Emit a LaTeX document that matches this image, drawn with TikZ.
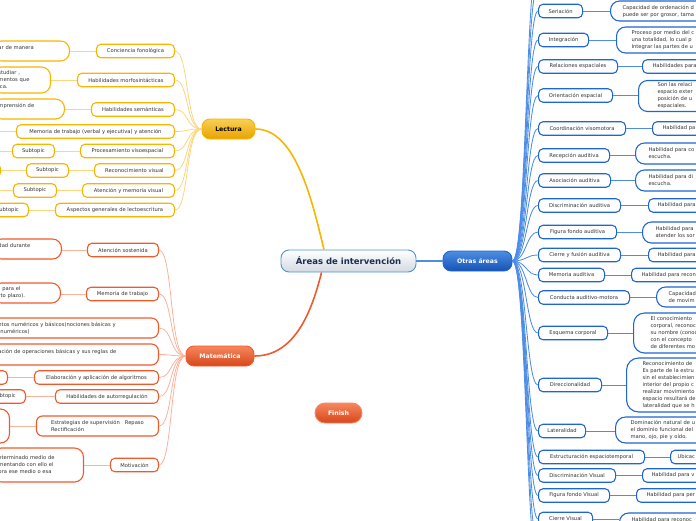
\documentclass[tikz,border=0pt]{standalone}
\usepackage{fontspec}
\setmainfont{DejaVu Sans}
\usetikzlibrary{positioning}

\definecolor{lecEdge}{HTML}{F7B500}
\definecolor{lecTop}{HTML}{F9CF55}
\definecolor{lecLow}{HTML}{E8A200}
\definecolor{lecLine}{HTML}{FBD67E}
\definecolor{matEdge}{HTML}{EF5A2C}
\definecolor{matTop}{HTML}{F6875D}
\definecolor{matLow}{HTML}{D8461B}
\definecolor{matLine}{HTML}{F8B39C}
\definecolor{otrEdge}{HTML}{1F66D1}
\definecolor{otrTop}{HTML}{4C8EE3}
\definecolor{otrLow}{HTML}{1552B6}
\definecolor{otrLine}{HTML}{4D8DE5}
\definecolor{cenEdge}{HTML}{4D94D6}
\definecolor{cenLow}{HTML}{D3DAE1}
\definecolor{cenText}{HTML}{1C2D4D}
\definecolor{textGray}{HTML}{333333}

\begin{document}
\begin{tikzpicture}
      [x=1pt,y=-1pt,
       every node/.style={font=\fontsize{5.2}{7}\selectfont,text=textGray},
       topicBox/.style={rectangle,rounded corners=4.5pt,line width=1.1pt,fill=white,inner sep=0pt,minimum height=13.5pt,align=left},
       lecBox/.style={topicBox,draw=lecEdge},
       matBox/.style={topicBox,draw=matEdge},
       otrBox/.style={topicBox,draw=otrEdge},
       noteBox/.style={rectangle,rounded corners=9pt,line width=1.1pt,fill=white,inner ysep=0pt,align=left},
       lecNote/.style={noteBox,draw=lecEdge},
       matNote/.style={noteBox,draw=matEdge},
       otrNote/.style={noteBox,draw=otrEdge,anchor=west,text width=150pt},
       mainBox/.style={rectangle,rounded corners=8pt,minimum height=20pt,inner sep=0pt,line width=0.9pt,font=\fontsize{6.2}{7}\selectfont\bfseries},
       lecLink/.style={draw=lecLine,line width=0.8pt},
       matLink/.style={draw=matLine,line width=0.8pt},
       otrLink/.style={draw=otrLine,line width=0.85pt}]
      \useasboundingbox (0,0) rectangle (696,520);
      \clip (0,0) rectangle (696,520);

      % main topics
      \node[mainBox,minimum width=135pt,minimum height=22pt,draw=cenEdge,top color=white,bottom color=cenLow,text=cenText,font=\fontsize{8.5}{9}\selectfont\bfseries] (cen) at (348.5,261) {Áreas de intervención};
      \node[mainBox,minimum width=53pt,draw=lecEdge,top color=lecTop,bottom color=lecLow,text=black] (lec) at (228.5,129) {Lectura};
      \node[mainBox,minimum width=68pt,draw=matEdge,top color=matTop,bottom color=matLow,text=white] (mat) at (220,356) {Matemática};
      \node[mainBox,minimum width=69pt,draw=otrEdge,top color=otrTop,bottom color=otrLow,text=white] (otr) at (477.5,261) {Otras áreas};
      \node[mainBox,minimum width=47pt,rounded corners=10pt,draw=matTop,top color=matTop,bottom color=matLow,text=white] (fin) at (338.5,413) {Finish};

      % Lectura
      \node[lecBox,anchor=east,minimum width=78pt] (lconc) at (175,51) {Conciencia fonológica};
      \node[lecBox,anchor=east,minimum width=97pt] (lmorf) at (175,80) {Habilidades morfosintácticas};
      \node[lecBox,anchor=east,minimum width=83pt] (lsem) at (175,109.5) {Habilidades semánticas};
      \node[lecBox,anchor=east,minimum width=158pt] (lmem) at (175,131.5) {Memoria de trabajo (verbal y ejecutiva) y atención};
      \node[lecBox,anchor=east,minimum width=94pt] (lproc) at (175,151) {Procesamiento visoespacial};
      \node[lecBox,anchor=east,minimum width=80pt] (lrec) at (175,170.5) {Reconocimiento visual};
      \node[lecBox,anchor=east,minimum width=92pt] (latm) at (175,190.5) {Atención y memoria visual};
      \node[lecBox,anchor=east,minimum width=119pt] (lasp) at (175,210) {Aspectos generales de lectoescritura};

      \node[lecNote,anchor=east,text width=65pt,inner xsep=6pt,minimum height=20pt] (lconcN) at (70,51) {ar de manera\\\mbox{}};
      \node[lecNote,anchor=east,text width=46pt,inner xsep=6pt,minimum height=26pt] (lmorfN) at (51,80) {studiar ,\\mentos que\\ica.};
      \node[lecNote,anchor=east,text width=60pt,inner xsep=6pt,minimum height=20pt] (lsemN) at (65,109) {mprensión de\\\mbox{}};
      \node[lecBox,anchor=east,minimum width=42pt,align=center] (lprocA) at (55,151) {Subtopic};
      \node[lecBox,anchor=east,minimum width=42pt,align=center] (lrecA) at (69,170.5) {Subtopic};
      \node[lecBox,anchor=east,minimum width=40pt] (lrecB) at (1,170.5) {};
      \node[lecBox,anchor=east,minimum width=43pt,align=center] (latmA) at (57,190.5) {Subtopic};
      \node[lecBox,anchor=east,minimum width=42pt,align=center] (laspA) at (29,210) {Subtopic};
      \coordinate (lmemOff) at (-20,131.5);
      \coordinate (lprocOff) at (-20,151);
      \coordinate (latmOff) at (-20,190.5);

      % Matematica
      \node[matBox,anchor=east,minimum width=71pt] (mate) at (159,250) {Atención sostenida};
      \node[matBox,anchor=east,minimum width=72pt] (mmem) at (159,294) {Memoria de trabajo};
      \node[matNote,anchor=east,text width=154pt,inner xsep=6pt,minimum height=20pt,rounded corners=7pt] (mnum) at (159,328) {ntos numéricos y básicos(nociones básicas y\\\hphantom{(}numéricos)};
      \node[matNote,anchor=east,text width=154pt,inner xsep=6pt,minimum height=21pt,rounded corners=7pt] (mope) at (159,354.5) {ación de operaciones básicas y sus reglas de\\\mbox{}};
      \node[matBox,anchor=east,minimum width=124pt] (malg) at (159,377.5) {Elaboración y aplicación de algoritmos};
      \node[matBox,anchor=east,minimum width=103pt] (maut) at (159,396.5) {Habilidades de autorregulación};
      \node[matBox,anchor=east,minimum width=122pt,minimum height=20pt,rounded corners=6pt] (mest) at (159,426) {Estrategias de supervisión\ \ \ Repaso\\Rectificación};
      \node[matBox,anchor=east,minimum width=48pt] (mmot) at (159,465) {Motivación};

      \node[matNote,anchor=east,text width=57pt,inner xsep=6pt,minimum height=20pt] (mateN) at (62,249) {dad durante\\\mbox{}};
      \node[matNote,anchor=east,text width=56pt,inner xsep=6pt,minimum height=20pt] (mmemN) at (61,293) {\hphantom{r} para el\\rto plazo).};
      \node[matBox,anchor=east,minimum width=40pt] (malgN) at (8,377.5) {};
      \node[matBox,anchor=east,minimum width=42pt,align=center] (mautA) at (26,396.5) {Subtopic};
      \node[matNote,anchor=east,minimum width=40pt,minimum height=34pt] (mestN) at (10,426) {};
      \node[matNote,anchor=east,text width=79pt,inner xsep=6pt,minimum height=34pt] (mmotN) at (84,465) {eterminado medio de\\mentando con ello el\\bra ese medio o esa};

      % Otras areas
      \node[otrBox,anchor=west,minimum width=44pt,align=center] (oser) at (538,11) {Seriación};
      \node[otrBox,anchor=west,minimum width=50pt,align=center] (oint) at (538,40) {Integración};
      \node[otrBox,anchor=west,minimum width=79pt,align=center] (orel) at (538,66.5) {Relaciones espaciales};
      \node[otrBox,anchor=west,minimum width=74pt,align=center] (oori) at (538,95.5) {Orientación espacial};
      \node[otrBox,anchor=west,minimum width=87pt,align=center] (ocoo) at (538,128.5) {Coordinación visomotora};
      \node[otrBox,anchor=west,minimum width=71pt,align=center] (orec) at (538,155.5) {Recepción auditiva};
      \node[otrBox,anchor=west,minimum width=72pt,align=center] (oaso) at (538,180.5) {Asociación auditiva};
      \node[otrBox,anchor=west,minimum width=82pt,align=center] (odis) at (538,205.5) {Discriminación auditiva};
      \node[otrBox,anchor=west,minimum width=78pt,align=center] (ofig) at (538,232) {Figura fondo auditiva};
      \node[otrBox,anchor=west,minimum width=82pt,align=center] (ocie) at (538,255) {Cierre y fusión auditiva};
      \node[otrBox,anchor=west,minimum width=66pt,align=center] (omem) at (538,275) {Memoria auditiva};
      \node[otrBox,anchor=west,minimum width=91pt,align=center] (ocon) at (538,297.5) {Conducta auditivo-motora};
      \node[otrBox,anchor=west,minimum width=69pt,align=center] (oesq) at (538,333) {Esquema corporal};
      \node[otrBox,anchor=west,minimum width=63pt,align=center] (odir) at (538,385) {Direccionalidad};
      \node[otrBox,anchor=west,minimum width=47pt,align=center] (olat) at (538,431) {Lateralidad};
      \node[otrBox,anchor=west,minimum width=106pt,align=center] (oest) at (538,457) {Estructuración espaciotemporal};
      \node[otrBox,anchor=west,minimum width=77pt,align=center] (odvi) at (538,475.5) {Discriminación Visual};
      \node[otrBox,anchor=west,minimum width=71pt,align=center] (ofvi) at (538,495.5) {Figura fondo Visual};
      \node[otrBox,anchor=west,minimum width=54pt,align=center] (ocvi) at (538,519) {Cierre Visual};
      \coordinate (oUp1) at (538,-14);
      \coordinate (oUp2) at (538,-38);
      \coordinate (oDown1) at (538,542);
      \coordinate (oDown2) at (538,565);

      \node[otrNote,inner xsep=12pt,minimum height=20pt] (oserN) at (610,11) {Capacidad de ordenación d\\puede ser por grosor, tama};
      \node[otrNote,inner xsep=15pt,minimum height=26pt] (ointN) at (616,40) {Proceso por medio del c\\una totalidad, lo cual p\\Integrar las partes de u};
      \node[otrNote,inner xsep=10pt,minimum height=13.5pt,rounded corners=4.5pt] (orelN) at (642,66.5) {Habilidades para};
      \node[otrNote,inner xsep=19pt,minimum height=31pt] (ooriN) at (638,96) {Son las relaci\\espacio exter\\posición de u\\espaciales.};
      \node[otrNote,inner xsep=10pt,minimum height=13.5pt,rounded corners=4.5pt] (ocooN) at (652,128.5) {Habilidad pa};
      \node[otrNote,inner xsep=13pt,minimum height=21pt] (orecN) at (635,153.5) {Habilidad para co\\escucha.};
      \node[otrNote,inner xsep=13pt,minimum height=21pt] (oasoN) at (635,180.5) {Habilidad para di\\escucha.};
      \node[otrNote,inner xsep=9pt,minimum height=13.5pt,rounded corners=4.5pt] (odisN) at (648,205.5) {Habilidad para};
      \node[otrNote,inner xsep=13pt,minimum height=21pt] (ofigN) at (642,232.5) {Habilidad para\\atender los sor};
      \node[otrNote,inner xsep=9pt,minimum height=13.5pt,rounded corners=4.5pt] (ocieN) at (648,255) {Habilidad para};
      \node[otrNote,inner xsep=10pt,minimum height=13.5pt,rounded corners=4.5pt] (omemN) at (631,275) {Habilidad para recon};
      \node[otrNote,inner xsep=12pt,minimum height=20pt] (oconN) at (656,297) {Capacidad\\de movim};
      \node[otrNote,inner xsep=17pt,minimum height=40pt,rounded corners=11pt] (oesqN) at (633,333) {El conocimiento\\corporal, reconoc\\su nombre (conoc\\con el concepto\\de diferentes mo};
      \node[otrNote,inner xsep=16pt,minimum height=54pt,rounded corners=12pt] (odirN) at (626,385) {Reconocimiento de\\Es parte de la estru\\sin el establecimien\\interior del propio c\\realizar movimiento\\espacio resultará de\\lateralidad que se h};
      \node[otrNote,inner xsep=15pt,minimum height=26pt,rounded corners=10pt] (olatN) at (615,430) {Dominación natural de u\\el dominio funcional del\\mano, ojo, pie y oído.};
      \node[otrNote,inner xsep=7pt,minimum height=13.5pt,rounded corners=4.5pt] (oestN) at (670,457) {Ubicac};
      \node[otrNote,inner xsep=9pt,minimum height=13.5pt,rounded corners=4.5pt] (odviN) at (642,475.5) {Habilidad para v};
      \node[otrNote,inner xsep=10pt,minimum height=13.5pt,rounded corners=4.5pt] (ofviN) at (636,495.5) {Habilidad para per};
      \node[otrNote,inner xsep=12pt,minimum height=20pt] (ocviN) at (619,523) {Habilidad para reconoc\\\mbox{}};

      % branches from the centre
      \draw[draw=lecEdge,line width=1.6pt] (lec.east) .. controls +(40,0) and +(-12,-50) .. (cen.155);
      \draw[draw=matEdge,line width=1.6pt] (cen.203) .. controls +(-10,40) and +(40,0) .. (mat.east);
      \draw[draw=otrLine,line width=1.1pt] (cen.east) -- (otr.west);

      % fans
      \foreach \t in {lconc,lmorf,lsem,lmem,lproc,lrec,latm,lasp}
        \draw[lecLink] (lec.west) .. controls +(-16,0) and +(14,0) .. (\t.east);
      \foreach \t in {mate,mmem,mnum,mope,malg,maut,mest,mmot}
        \draw[matLink] (mat.west) .. controls +(-16,0) and +(14,0) .. (\t.east);
      \foreach \t in {oser,oint,orel,oori,ocoo,orec,oaso,odis,ofig,ocie,omem,ocon,oesq,odir,olat,oest,odvi,ofvi,ocvi}
        \draw[otrLink] (otr.east) .. controls +(14,0) and +(-12,0) .. (\t.west);
      \foreach \t in {oUp1,oUp2,oDown1,oDown2}
        \draw[otrLink] (otr.east) .. controls +(14,0) and +(-12,0) .. (\t);

      % children
      \draw[lecLink] (lconc.west) -- (lconcN.east);
      \draw[lecLink] (lmorf.west) -- (lmorfN.east);
      \draw[lecLink] (lsem.west) -- (lsemN.east |- lsem.west);
      \draw[lecLink] (lmem.west) -- (lmemOff);
      \draw[lecLink] (lproc.west) -- (lprocA.east);
      \draw[lecLink] (lprocA.west) -- (lprocOff);
      \draw[lecLink] (lrec.west) -- (lrecA.east);
      \draw[lecLink] (lrecA.west) -- (lrecB.east);
      \draw[lecLink] (latm.west) -- (latmA.east);
      \draw[lecLink] (latmA.west) -- (latmOff);
      \draw[lecLink] (lasp.west) -- (laspA.east);
      \draw[matLink] (mate.west) -- (mateN.east |- mate.west);
      \draw[matLink] (mmem.west) -- (mmemN.east |- mmem.west);
      \draw[matLink] (malg.west) -- (malgN.east);
      \draw[matLink] (maut.west) -- (mautA.east);
      \draw[matLink] (mest.west) -- (mestN.east);
      \draw[matLink] (mmot.west) -- (mmotN.east);
      \foreach \t in {oser,oint,orel,oori,ocoo,orec,oaso,odis,ofig,ocie,omem,ocon,oesq,odir,olat,oest,odvi,ofvi}
        \draw[otrLink] (\t.east) -- (\t N.west |- \t.east);
      \draw[otrLink] (ocvi.east) -- (ocviN.west |- ocvi.east);
    \end{tikzpicture}
\end{document}
